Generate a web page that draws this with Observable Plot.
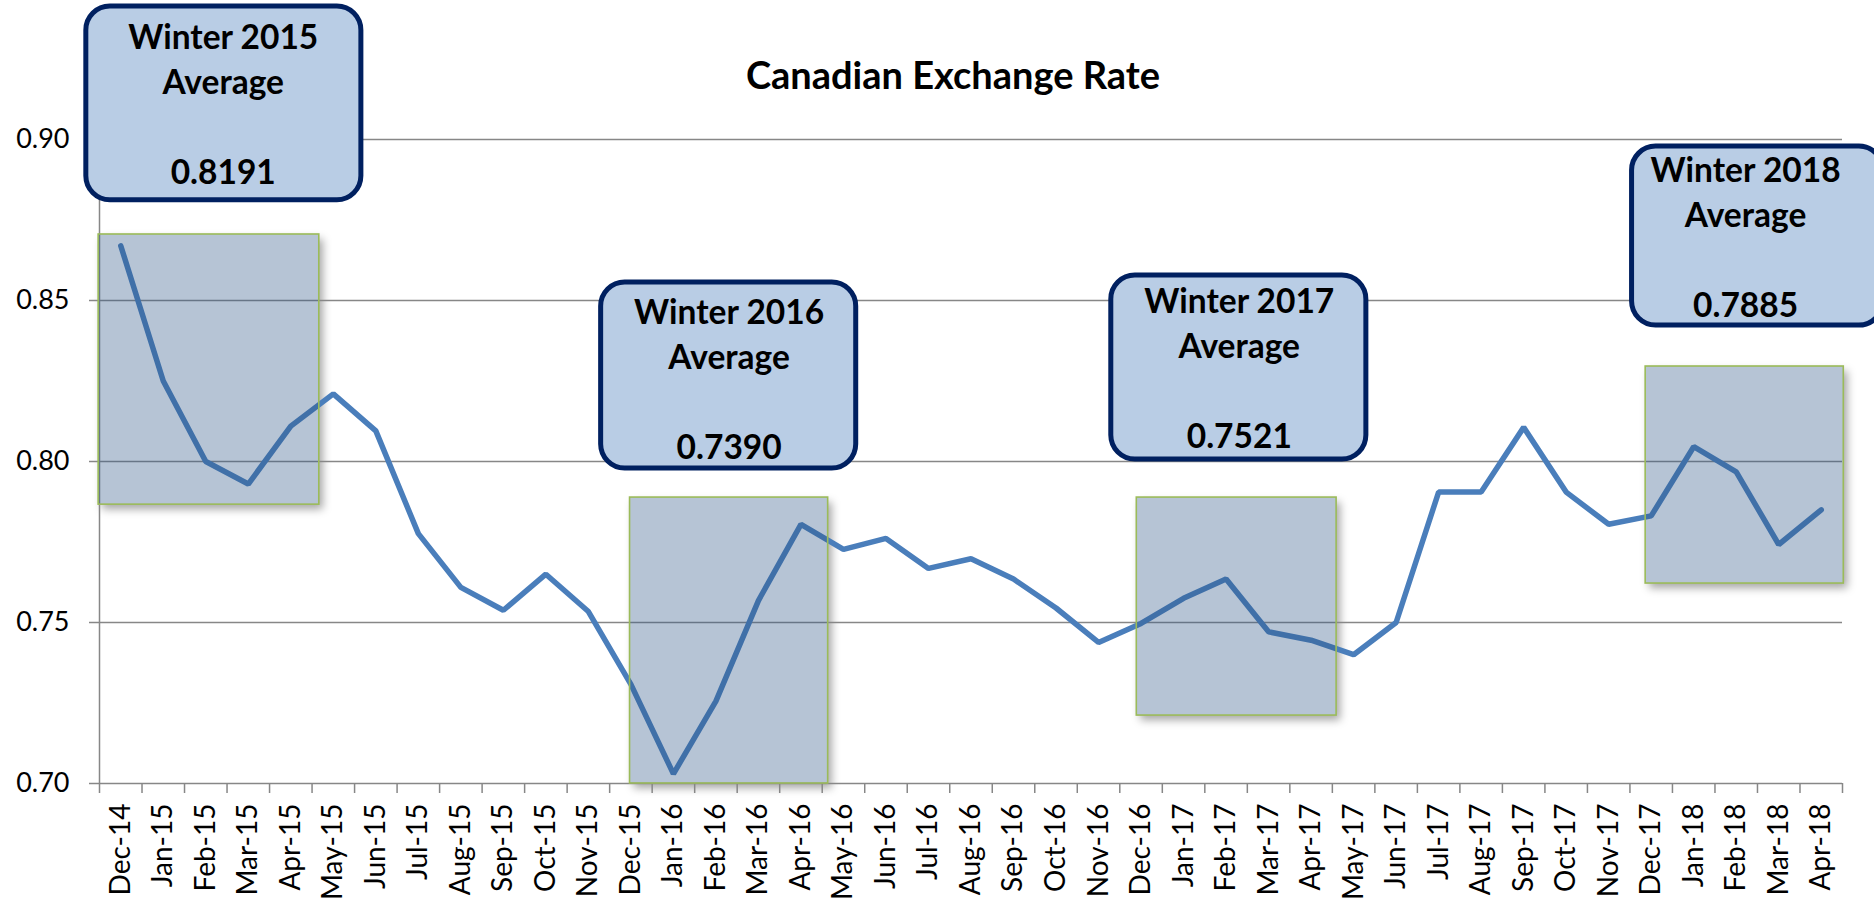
<!DOCTYPE html>
<html>
<head>
<meta charset="utf-8">
<script src="https://cdn.jsdelivr.net/npm/d3@7"></script>
<script src="https://cdn.jsdelivr.net/npm/@observablehq/plot@0.6"></script>
<style>
  html, body { margin: 0; padding: 0; background: #ffffff; }
  #chart { width: 1874px; height: 903px; overflow: hidden; }
  g[aria-description="shadow"] { filter: drop-shadow(4px 5px 4px rgba(0,0,0,0.35)); }
</style>
</head>
<body>
<div id="chart"></div>
<script>
// ---- data ----
const months = ["Dec-14","Jan-15","Feb-15","Mar-15","Apr-15","May-15","Jun-15","Jul-15","Aug-15","Sep-15","Oct-15","Nov-15",
  "Dec-15","Jan-16","Feb-16","Mar-16","Apr-16","May-16","Jun-16","Jul-16","Aug-16","Sep-16","Oct-16","Nov-16",
  "Dec-16","Jan-17","Feb-17","Mar-17","Apr-17","May-17","Jun-17","Jul-17","Aug-17","Sep-17","Oct-17","Nov-17",
  "Dec-17","Jan-18","Feb-18","Mar-18","Apr-18"];
const rates = [0.867,0.825,0.800,0.793,0.811,0.821,0.8095,0.7776,0.7609,0.7538,0.765,0.7534,
  0.7308,0.703,0.7256,0.7568,0.7805,0.7727,0.7761,0.7668,0.7698,0.7635,0.7545,0.7438,
  0.7497,0.7575,0.7635,0.7471,0.7445,0.740,0.750,0.7905,0.7905,0.8106,0.7905,0.7805,
  0.7831,0.8046,0.7968,0.7742,0.785];
const winterLabels = ["Winter 2015","Winter 2016","Winter 2017","Winter 2018"];
const winterAverages = [0.8191,0.7390,0.7521,0.7885];
const yTicks = [0.70,0.75,0.80,0.85,0.90];
const titleText = "Canadian Exchange Rate";

// ---- annotation layout (in data units of the x index / rate scale) ----
const shadeX1 = [-0.52, 11.98, 23.9, 35.87];
const shadeX2 = [4.67, 16.64, 28.6, 40.53];
const shadeY1 = [0.7866, 0.70, 0.7211, 0.7621];
const shadeY2 = [0.8705, 0.7888, 0.7888, 0.8295];
const calloutX1 = [-0.81, 11.3, 23.3, 35.55];
const calloutX2 = [5.66, 17.3, 29.3, 41.46];
const calloutY1 = [0.8811, 0.7978, 0.8006, 0.8422];
const calloutY2 = [0.9413, 0.8556, 0.8578, 0.8978];
const calloutTextX = [2.41, 14.31, 26.31, 38.22];
const calloutTextY = [0.9314, 0.8460, 0.8494, 0.8901];

const series = rates.map((v, i) => ({i, v}));
const shades = shadeX1.map((_, k) => ({x1: shadeX1[k], x2: shadeX2[k], y1: shadeY1[k], y2: shadeY2[k]}));
const callouts = winterLabels.map((lab, k) => ({
  label: lab, avg: winterAverages[k].toFixed(4),
  x1: calloutX1[k], x2: calloutX2[k], y1: calloutY1[k], y2: calloutY2[k],
  tx: calloutTextX[k], ty: calloutTextY[k]
}));

const GRID = "#878787";
const FONT = "Lato, 'Open Sans', sans-serif";
const CFS = 33.5;

const chart = Plot.plot({
  width: 1874,
  height: 903,
  marginLeft: 99,
  marginRight: 32,
  marginTop: 139,
  marginBottom: 120,
  style: {background: "#ffffff", fontFamily: FONT, color: "#000"},
  x: {type: "linear", domain: [-0.5, 40.5], axis: null},
  y: {type: "linear", domain: [0.70, 0.90], axis: null},
  marks: [
    // soft shadow behind the shaded winter boxes
    Plot.rect(shades, {x1: "x1", x2: "x2", y1: "y1", y2: "y2", fill: "#ffffff", ariaDescription: "shadow"}),
    Plot.gridY(yTicks.filter(d => d > 0.70), {stroke: GRID, strokeOpacity: 1, strokeWidth: 1.5}),
    Plot.ruleX([-0.5], {y1: 0.70, y2: 0.90, stroke: GRID, strokeWidth: 1.5}),
    Plot.ruleY([0.70], {stroke: GRID, strokeWidth: 1.5}),
    Plot.axisY({ticks: yTicks, tickSize: 10, tickPadding: 20, tickFormat: d => d.toFixed(2),
      stroke: GRID, strokeWidth: 1.5, fill: "#000", fontSize: 27, fontFamily: FONT}),
    Plot.axisX({ticks: d3.range(-0.5, 41, 1), tickSize: 10, tickFormat: () => "",
      stroke: GRID, strokeWidth: 1.5}),
    Plot.axisX({ticks: d3.range(0, 41, 1), tickSize: 0, tickPadding: 20, tickRotate: -90,
      tickFormat: i => months[i], fill: "#000", fontSize: 28, fontFamily: FONT}),
    Plot.line(series, {x: "i", y: "v", stroke: "#4a7ebb", strokeWidth: 5.5, strokeLinejoin: "miter", strokeLinecap: "round"}),
    Plot.rect(shades, {x1: "x1", x2: "x2", y1: "y1", y2: "y2", fill: "#2e5687", fillOpacity: 0.35,
      stroke: "#9bbb59", strokeWidth: 1.6}),
    Plot.rect(callouts, {x1: "x1", x2: "x2", y1: "y1", y2: "y2", rx: 24, ry: 24,
      fill: "#b9cde5", stroke: "#002060", strokeWidth: 5}),
    Plot.text(callouts, {x: "tx", y: "ty", text: "label", fontSize: CFS, fontWeight: "bold", fontFamily: FONT, fill: "#000"}),
    Plot.text(callouts, {x: "tx", y: "ty", text: () => "Average", dy: 45, fontSize: CFS, fontWeight: "bold", fontFamily: FONT, fill: "#000"}),
    Plot.text(callouts, {x: "tx", y: "ty", text: "avg", dy: 135, fontSize: CFS, fontWeight: "bold", fontFamily: FONT, fill: "#000"}),
    Plot.text([titleText], {frameAnchor: "top", dx: -18, dy: -77, fontSize: 38, fontWeight: "bold", fontFamily: FONT, fill: "#000"})
  ]
});
document.getElementById("chart").appendChild(chart);
</script>
</body>
</html>
